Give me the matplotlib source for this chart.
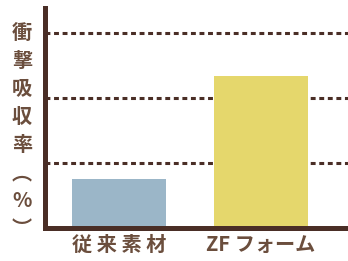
import matplotlib
matplotlib.use("Agg")
import matplotlib.pyplot as plt

plt.rcParams["font.family"] = ["Noto Sans CJK JP", "DejaVu Sans"]

# data
categories = ["従 来 素 材", "ZF フォーム"]
values = [0.75, 2.34]
bar_colors = ["#9BB6C8", "#E5D76C"]
grid_levels = [1, 2, 3]
ylabel_chars = ["衝", "撃", "吸", "収", "率", "︵", "%", "︶"]

axis_color = "#4A2E26"
text_color = "#6B4E3D"

fig = plt.figure(figsize=(3.48, 2.61), dpi=100)
ax = fig.add_axes([44.5 / 348, (261 - 228) / 261, 1 - 44.5 / 348, (228 - 8) / 261])

x = range(len(categories))
for lvl in grid_levels:
    ax.axhline(lvl, color=axis_color, lw=2.2, ls=(0, (1.6, 1.2)), zorder=1)
ax.bar(x, values, width=0.662, color=bar_colors, zorder=2)

ax.set_xlim(-0.528, 1.613)
ax.set_ylim(0, 3.38)

for side in ["top", "right"]:
    ax.spines[side].set_visible(False)
for side in ["left", "bottom"]:
    ax.spines[side].set_color(axis_color)
    ax.spines[side].set_linewidth(3.6)
    ax.spines[side].set_zorder(3)

ax.set_yticks([])
ax.set_xticks(list(x))
ax.set_xticklabels(categories, fontsize=14.5, color=text_color, fontweight="bold")
ax.tick_params(axis="x", length=0, pad=4)

fig.text(22 / 348, 0.5, "\n".join(ylabel_chars), ha="center", va="center",
         fontsize=14.5, color=text_color, linespacing=1.42, fontweight="bold")

fig.savefig("out.png", dpi=100)
